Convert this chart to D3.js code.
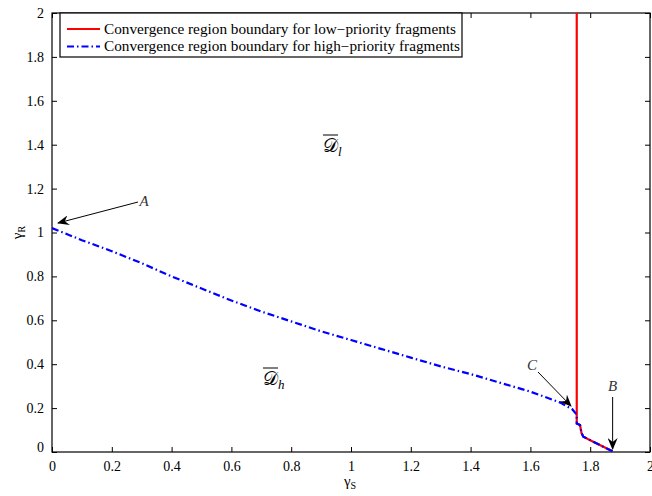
<!DOCTYPE html>
<html><head><meta charset="utf-8">
<script src="https://cdn.jsdelivr.net/npm/d3@7"></script>
<style>
body{margin:0;background:#fff;}
svg{display:block;}
text{font-family:"Liberation Serif","Times New Roman",serif;}
</style></head>
<body><svg id="c" width="652" height="496"></svg>
<script>
// Data
const xTicks = [0,0.2,0.4,0.6,0.8,1,1.2,1.4,1.6,1.8,2];
const yTicks = [0,0.2,0.4,0.6,0.8,1,1.2,1.4,1.6,1.8,2];
const xTickLabels = ["0","0.2","0.4","0.6","0.8","1","1.2","1.4","1.6","1.8","2"];
const yTickLabels = ["0","0.2","0.4","0.6","0.8","1","1.2","1.4","1.6","1.8","2"];
const highX = [0,0.1,0.2,0.3,0.4,0.5,0.6,0.7,0.8,0.9,1.0,1.1,1.2,1.3,1.4,1.5,1.6,1.7,1.74,1.755,1.755,1.766,1.771,1.777,1.81,1.844,1.875];
const highY = [1.02,0.965,0.915,0.86,0.80,0.745,0.69,0.64,0.595,0.55,0.51,0.47,0.43,0.39,0.355,0.315,0.275,0.225,0.195,0.17,0.13,0.123,0.086,0.07,0.047,0.024,0.003];
const lowX = [1.755,1.755,1.766,1.771,1.777,1.81,1.844,1.875];
const lowY = [2.0,0.13,0.123,0.086,0.07,0.047,0.024,0.003];
const seriesNames = ["Convergence region boundary for low\u2212priority fragments","Convergence region boundary for high\u2212priority fragments"];
const annLabels = ["A","B","C"];

const svg = d3.select("#c");
const L=52,R=650,T=13,B=452;
const x = d3.scaleLinear().domain([0,2]).range([L,R]);
const y = d3.scaleLinear().domain([0,2]).range([B,T]);

// axes with inner ticks
const fmtX = (d,i)=>xTickLabels[i], fmtY=(d,i)=>yTickLabels[i];
const gx = svg.append("g").attr("transform",`translate(0,${B})`)
  .call(d3.axisBottom(x).tickValues(xTicks).tickFormat(fmtX).tickSizeInner(-5).tickSizeOuter(0).tickPadding(9));
const gxt = svg.append("g").attr("transform",`translate(0,${T})`)
  .call(d3.axisTop(x).tickValues(xTicks).tickFormat("").tickSizeInner(-5).tickSizeOuter(0));
const gy = svg.append("g").attr("transform",`translate(${L},0)`)
  .call(d3.axisLeft(y).tickValues(yTicks).tickFormat(fmtY).tickSizeInner(-5).tickSizeOuter(0).tickPadding(8));
const gyr = svg.append("g").attr("transform",`translate(${R},0)`)
  .call(d3.axisRight(y).tickValues(yTicks).tickFormat("").tickSizeInner(-5).tickSizeOuter(0));
[gx,gxt,gy,gyr].forEach(g=>{
  g.selectAll(".domain").remove();
  g.selectAll("line").attr("stroke","#000");
  g.selectAll("text").attr("font-family","Liberation Serif").attr("font-size",14).attr("fill","#000");
});
gy.selectAll(".tick").filter(d=>d===0).select("text").attr("dy","-0.05em");
svg.append("rect").attr("x",L).attr("y",T).attr("width",R-L).attr("height",B-T)
  .attr("fill","none").attr("stroke","#000").attr("stroke-width",1.2);

// axis labels
const xl = svg.append("text").attr("x",350).attr("y",486).attr("text-anchor","middle")
  .attr("font-family","Liberation Sans").attr("font-size",15);
xl.append("tspan").text("\u03b3");
xl.append("tspan").attr("font-size",10).attr("dy",3).text("S");
const yl = svg.append("text").attr("transform",`translate(22,${y(1)}) rotate(-90)`).attr("text-anchor","middle")
  .attr("font-family","Liberation Sans").attr("font-size",15);
yl.append("tspan").text("\u03b3");
yl.append("tspan").attr("font-size",10).attr("dy",3).text("R");

// lines
const line = d3.line().x(d=>x(d[0])).y(d=>y(d[1]));
const clip = svg.append("clipPath").attr("id","pc").append("rect").attr("x",L).attr("y",T).attr("width",R-L).attr("height",B-T);
svg.append("path").datum(lowX.map((v,i)=>[v,lowY[i]])).attr("d",line)
  .attr("fill","none").attr("stroke","#ff0000").attr("stroke-width",2.2).attr("clip-path","url(#pc)");
svg.append("path").datum(highX.map((v,i)=>[v,highY[i]])).attr("d",line)
  .attr("fill","none").attr("stroke","#0000ff").attr("stroke-width",2.2).attr("stroke-dasharray","7,3,1.5,3");

// arrows
const defs = svg.append("defs");
defs.append("marker").attr("id","ah").attr("viewBox","0 0 12 10").attr("refX",11).attr("refY",5)
  .attr("markerWidth",12).attr("markerHeight",10).attr("markerUnits","userSpaceOnUse").attr("orient","auto")
  .append("path").attr("d","M0,0 L12,5 L0,10 L4,5 Z").attr("fill","#000");
const arrows = [
  {t:annLabels[0], from:[138,202], to:[58,223], tx:144, ty:206},
  {t:annLabels[1], from:[x(1.875),397], to:[x(1.875),449], tx:x(1.875), ty:391},
  {t:annLabels[2], from:[538,372], to:[571,406], tx:532, ty:370},
];
arrows.forEach(a=>{
  svg.append("line").attr("x1",a.from[0]).attr("y1",a.from[1]).attr("x2",a.to[0]).attr("y2",a.to[1])
    .attr("stroke","#000").attr("stroke-width",1).attr("marker-end","url(#ah)");
  svg.append("text").attr("x",a.tx).attr("y",a.ty).attr("text-anchor","middle")
    .attr("font-style","italic").attr("font-size",15).attr("fill","#333").text(a.t);
});

// region labels
function regionLabel(cx,cy,sub){
  const t = svg.append("text").attr("x",cx).attr("y",cy).attr("font-size",19)
    .attr("font-family","DejaVu Serif");
  t.append("tspan").text("\ud835\udc9f");
  t.append("tspan").attr("font-size",13).attr("font-style","italic").attr("dy",4)
    .attr("font-family","Liberation Serif").text(sub);
  const bb = t.node().getBBox();
  svg.append("line").attr("x1",cx).attr("x2",cx+15).attr("y1",cy-17).attr("y2",cy-17)
    .attr("stroke","#000").attr("stroke-width",1);
}
regionLabel(323,152,"l");
regionLabel(263,385,"h");

// legend
const lg = svg.append("g");
lg.append("rect").attr("x",60).attr("y",13).attr("width",402).attr("height",44)
  .attr("fill","#fff").attr("stroke","#000").attr("stroke-width",1.2);
const lcol=["#ff0000","#0000ff"], ldash=[null,"7,3,1.5,3"];
seriesNames.forEach((n,i)=>{
  const yy = 29+i*17.5;
  lg.append("line").attr("x1",67).attr("x2",100).attr("y1",yy).attr("y2",yy)
    .attr("stroke",lcol[i]).attr("stroke-width",2).attr("stroke-dasharray",ldash[i]);
  lg.append("text").attr("x",104).attr("y",yy+4.5).attr("font-size",14).attr("fill","#000")
    .attr("textLength",i===0?352:356).attr("lengthAdjust","spacingAndGlyphs").text(n);
});
</script></body></html>
